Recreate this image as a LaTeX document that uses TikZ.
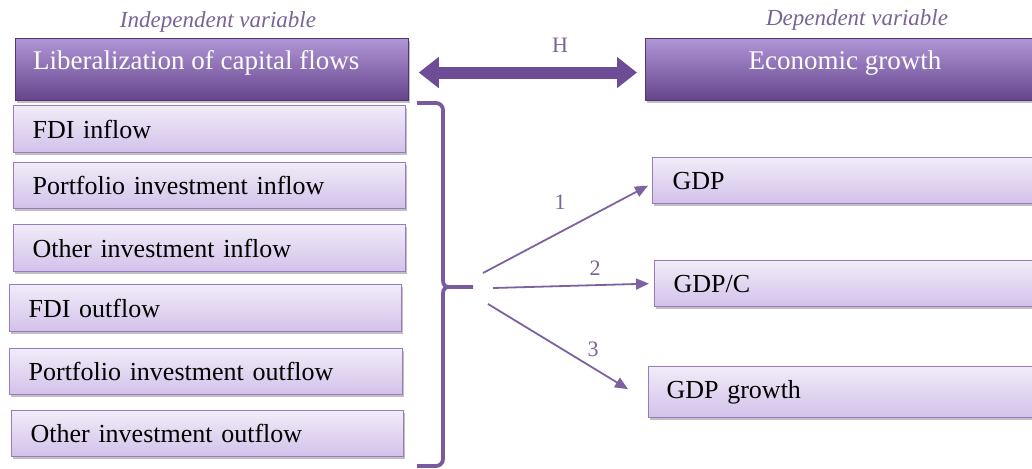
\documentclass[tikz,border=0pt]{standalone}
\usepackage{fontspec}
\setmainfont{Liberation Serif}
\usetikzlibrary{arrows.meta,calc,shadows,positioning}
\definecolor{hdrtop}{HTML}{B096D6}
\definecolor{hdrmid}{HTML}{7A56A5}
\definecolor{hdrbot}{HTML}{66448C}
\definecolor{boxtop}{HTML}{F1ECF8}
\definecolor{boxbot}{HTML}{D2C1EA}
\definecolor{boxline}{HTML}{9A7BC0}
\definecolor{arrcol}{HTML}{7D62A2}
\definecolor{bracecol}{HTML}{7A5A9E}
\definecolor{dblcol}{HTML}{6F4D96}
\definecolor{labcol}{HTML}{7A6396}
\tikzset{
  lbox/.style={draw=boxline, line width=1.3pt, top color=boxtop, bottom color=boxbot,
    anchor=north west, inner xsep=19pt, inner ysep=0pt, align=left,
    font=\fontsize{26}{30}\selectfont, text=black,
    drop shadow={shadow xshift=1.5pt, shadow yshift=-2.5pt, opacity=.35, fill=black!70}},
  hbox/.style={draw=hdrbot!80!black, line width=0.8pt, top color=hdrtop, middle color=hdrmid, bottom color=hdrbot,
    anchor=north west, inner sep=0pt,
    drop shadow={shadow xshift=1.5pt, shadow yshift=-2.5pt, opacity=.35, fill=black!70}},
  htext/.style={text=white, font=\fontsize{27}{30}\selectfont, inner sep=0pt},
  vlabel/.style={text=labcol, font=\fontsize{23}{26}\selectfont\itshape, inner sep=0pt},
  numlab/.style={text=labcol, font=\fontsize{22}{26}\selectfont, inner sep=0pt},
  thinarr/.style={draw=arrcol, line width=1.8pt, -{Triangle[length=13pt,width=11pt]}},
}
\begin{document}
\begin{tikzpicture}[x=1pt,y=-1pt]
\useasboundingbox (0,0) rectangle (1032,468);
\clip (0,0) rectangle (1032,468);
\fill[white] (0,0) rectangle (1032,468);

% headers
\node[hbox, minimum width=393pt, minimum height=62pt] (hdrL) at (15,38) {};
\node[htext, anchor=west] (hdrLt) at (33,63) {Liberalization of capital flows};
\node[hbox, minimum width=410pt, minimum height=62pt] (hdrR) at (645,38) {};
\node[htext] (hdrRt) at (845,63) {Economic growth};

\node[vlabel] (indep) at (218,22) {Independent variable};
\node[vlabel] (dep) at (857,20) {Dependent variable};
\node[numlab] (hlab) at (560,45) {H};

% double arrow
\draw[dblcol, line width=12pt, {Triangle[length=20pt,width=30pt]}-{Triangle[length=20pt,width=30pt]},
  shorten <=10pt, shorten >=8pt] ($(hdrL.north east)!0.55!(hdrL.south east)$) -- ($(hdrR.north west)!0.55!(hdrR.south west)$);

% left boxes
\node[lbox, minimum width=392pt, text width=354pt, minimum height=47pt] (fdiin) at (13,105) {FDI inflow};
\node[lbox, minimum width=392pt, text width=354pt, minimum height=46pt] (pin) at (13,162) {Portfolio investment inflow};
\node[lbox, minimum width=392pt, text width=354pt, minimum height=47pt] (oin) at (13,224) {Other investment inflow};
\node[lbox, minimum width=392pt, text width=354pt, minimum height=47pt] (fdiout) at (9,284) {FDI outflow};
\node[lbox, minimum width=393pt, text width=355pt, minimum height=46pt] (pout) at (9,348) {Portfolio investment outflow};
\node[lbox, minimum width=392pt, text width=354pt, minimum height=46pt] (oout) at (11,410) {Other investment outflow};

% right boxes
\node[lbox, inner xsep=20pt, minimum width=420pt, text width=380pt, minimum height=46pt] (gdp) at (652,157) {GDP};
\node[lbox, inner xsep=19pt, minimum width=420pt, text width=382pt, minimum height=46pt] (gdpc) at (654,260) {GDP/C};
\node[lbox, inner xsep=18pt, minimum width=420pt, text width=384pt, minimum height=51pt] (gdpg) at (648,366) {GDP growth};

% brace
\coordinate (bt) at (417,103);
\coordinate (bb) at (417,466);
\coordinate (bn) at (473,287);
\draw[bracecol, line width=3.8pt, line join=round]
  (bt) -- (436,103) arc[start angle=-90, end angle=0, radius=7]
  -- (443,280) .. controls (443,285) and (445,287) .. (449,287) -- (bn);
\draw[bracecol, line width=3.8pt, line join=round]
  (449,287) .. controls (445,287) and (443,289) .. (443,294)
  -- (443,459) arc[start angle=0, end angle=90, radius=7] -- (bb);

% connectors
\coordinate (s1) at (483,273);
\coordinate (s2) at (493,288);
\coordinate (s3) at (488,304);
\draw[thinarr] (s1) -- ($(gdp.west)+(-4,5)$);
\draw[thinarr] (s2) -- ($(gdpc.west)+(-5,0)$);
\draw[thinarr] (s3) -- ($(gdpg.west)+(-20,-3)$);

\node[numlab] (n1) at (560,202) {1};
\node[numlab] (n2) at (595,268) {2};
\node[numlab] (n3) at (593,349) {3};
\end{tikzpicture}
\end{document}
